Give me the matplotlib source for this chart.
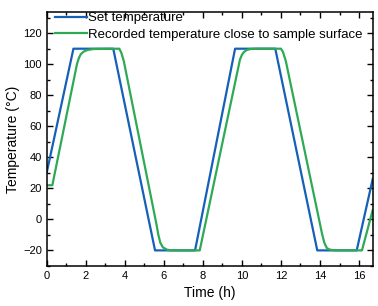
import numpy as np
import matplotlib
matplotlib.use('Agg')
import matplotlib.pyplot as plt
from matplotlib.ticker import MultipleLocator

plt.rcParams['font.family'] = ['Liberation Sans', 'DejaVu Sans']

# set temperature profile (breakpoints)
set_time = [0, 1.37, 3.41, 5.55, 7.60, 9.65, 11.71, 13.86, 15.88, 16.7]
set_temp = [30, 110, 110, -20, -20, 110, 110, -20, -20, 26]

# recorded temperature close to the sample surface
rec_time = [0, 0.29, 1.55, 1.65, 1.75, 1.9, 2.1, 2.4, 3.72, 3.82, 3.95,
            5.62, 5.72, 5.82, 5.95, 6.15, 6.4, 7.84, 9.9, 10.0, 10.1,
            10.25, 10.45, 10.7, 12.0, 12.1, 12.25, 14.1, 14.22, 14.35,
            14.5, 14.7, 16.15, 16.7]
rec_temp = [22, 22, 100, 104, 106.5, 108.2, 109.2, 109.8, 110, 107.5, 102,
            -3, -10, -15, -18, -19.5, -20, -20, 103, 106, 107.8,
            109.2, 109.8, 110, 110, 108, 102, -9, -15, -18.5,
            -19.5, -19.9, -20, 6]

fig = plt.figure(figsize=(3.78, 3.06), dpi=100)
ax = fig.add_axes([0.1235, 0.131, 0.8625, 0.829])

ax.plot(set_time, set_temp, color='#1560b8', lw=1.6, label='Set temperature')
ax.plot(rec_time, rec_temp, color='#2eaa55', lw=1.6,
        label='Recorded temperature close to sample surface')

ax.set_xlim(0, 16.7)
ax.set_ylim(-30, 133.5)
ax.xaxis.set_major_locator(MultipleLocator(2))
ax.xaxis.set_minor_locator(MultipleLocator(1))
ax.yaxis.set_major_locator(MultipleLocator(20))
ax.yaxis.set_minor_locator(MultipleLocator(10))
ax.tick_params(which='both', direction='in', top=True, right=True,
               width=1, labelsize=8)
ax.tick_params(which='major', length=4)
ax.tick_params(which='minor', length=2)
for s in ax.spines.values():
    s.set_linewidth(1.1)

ax.set_xlabel('Time (h)', fontsize=10)
ax.set_ylabel('Temperature (°C)', fontsize=10, labelpad=2)

ax.legend(loc='upper left', bbox_to_anchor=(0.025, 1.0), frameon=False,
          fontsize=9.5, borderpad=0, borderaxespad=0, handlelength=2.4,
          handletextpad=0.15, labelspacing=0.3)

fig.savefig('out.png', dpi=100)
